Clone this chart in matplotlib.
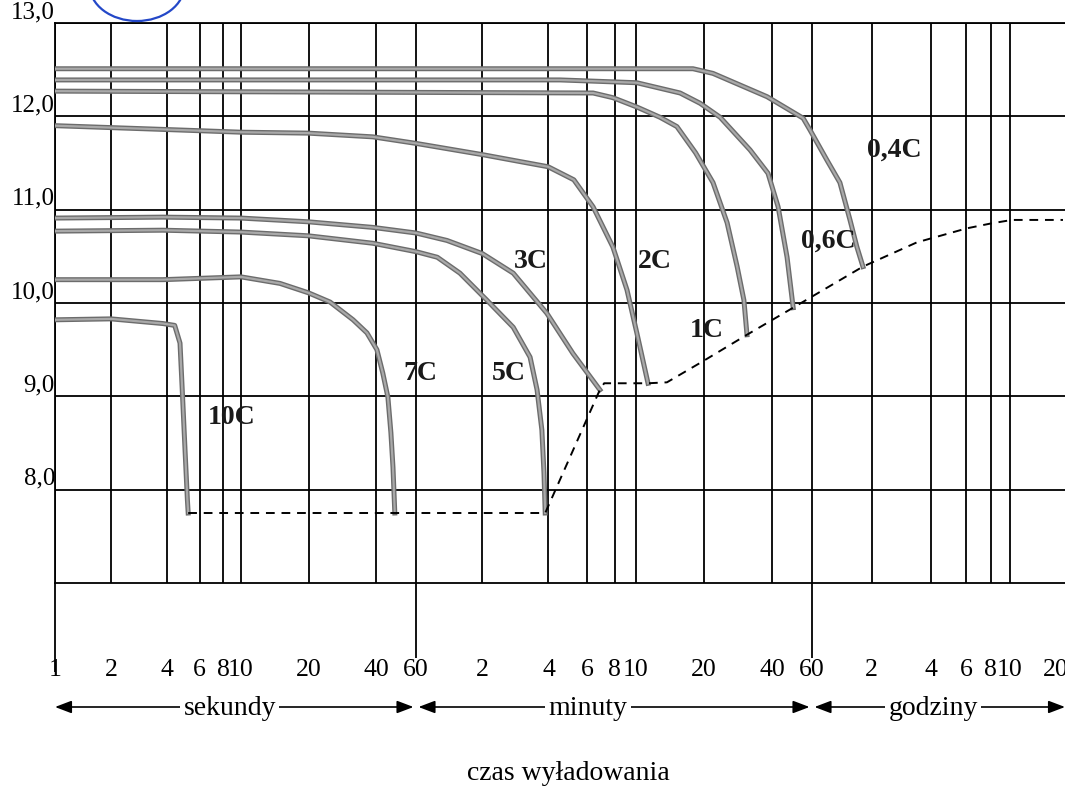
import numpy as np
import matplotlib
matplotlib.use("Agg")
import matplotlib.pyplot as plt
import matplotlib.patheffects as pe
from matplotlib.patches import Arc

# ---------------- data: discharge time [s] and voltage [V] ----------------
t_10C = [1, 2, 3.8, 4.4, 4.7, 4.85, 5.0, 5.15, 5.2]
v_10C = [9.82, 9.83, 9.78, 9.76, 9.57, 9.00, 8.43, 7.89, 7.75]

t_7C = [1, 3.8, 10, 14.9, 19.9, 24.9, 31.5, 36.3, 40.2, 42.7, 45, 46.4, 47.4, 48.3]
v_7C = [10.25, 10.25, 10.28, 10.21, 10.11, 10.01, 9.82, 9.68, 9.50, 9.25, 8.99, 8.61, 8.24, 7.75]

t_5C = [1, 3.8, 10, 19.9, 38.6, 60, 75, 95, 126, 166, 198, 213, 224, 229, 232]
v_5C = [10.77, 10.78, 10.76, 10.72, 10.64, 10.55, 10.49, 10.32, 10.03, 9.74, 9.42, 9.07, 8.64, 8.18, 7.75]

t_3C = [1, 3.8, 10, 19.9, 38.6, 60, 83, 120, 166, 236, 310, 411]
v_3C = [10.91, 10.92, 10.91, 10.87, 10.81, 10.75, 10.67, 10.53, 10.32, 9.89, 9.46, 9.07]

t_2C = [1, 3.8, 10, 19.9, 38.6, 60, 120, 239, 313, 383, 471, 546, 605, 678]
v_2C = [11.90, 11.86, 11.83, 11.82, 11.78, 11.71, 11.59, 11.46, 11.32, 11.03, 10.60, 10.14, 9.68, 9.14]

t_1C = [1, 383, 471, 605, 766, 910, 1100, 1314, 1517, 1680, 1800, 1857]
v_1C = [12.27, 12.25, 12.20, 12.10, 11.99, 11.89, 11.61, 11.29, 10.86, 10.39, 10.03, 9.66]

t_06C = [1, 271, 605, 940, 1152, 1413, 1916, 2300, 2550, 2793, 2972]
v_06C = [12.39, 12.39, 12.36, 12.25, 12.14, 11.99, 11.64, 11.39, 11.03, 10.49, 9.95]

t_04C = [1, 1072, 1314, 2280, 3290, 3535, 4285, 4980, 5600, 6070, 6510]
v_04C = [12.51, 12.51, 12.46, 12.21, 11.98, 11.85, 11.53, 11.29, 10.89, 10.60, 10.39]

# end-of-discharge voltage locus (dashed)
t_end = [5.2, 232, 411, 430, 678, 822, 1175, 1857, 2972, 6510, 12200, 21800, 28500, 37000, 79600]
v_end = [7.75, 7.75, 9.07, 9.14, 9.14, 9.15, 9.37, 9.66, 9.95, 10.39, 10.65, 10.80, 10.85, 10.89, 10.89]

curve_names = ["10C", "7C", "5C", "3C", "2C", "1C", "0,6C", "0,4C"]
curve_t = [t_10C, t_7C, t_5C, t_3C, t_2C, t_1C, t_06C, t_04C]
curve_v = [v_10C, v_7C, v_5C, v_3C, v_2C, v_1C, v_06C, v_04C]

tick_times = [1, 2, 4, 6, 8, 10, 20, 40, 60,
              120, 240, 360, 480, 600, 1200, 2400, 3600,
              7200, 14400, 21600, 28800, 36000, 72000]
tick_labels = ["1", "2", "4", "6", "8", "10", "20", "40", "60",
               "2", "4", "6", "8", "10", "20", "40", "60",
               "2", "4", "6", "8", "10", "20"]
y_ticks = [8, 9, 10, 11, 12, 13]
y_labels = ["8,0", "9,0", "10,0", "11,0", "12,0", "13,0"]

unit_names = ["sekundy", "minuty", "godziny"]
xlabel_text = "czas wyładowania"

# ---------------- layout / style ----------------
W, H = 1065, 793
plt.rcParams['font.family'] = ['Liberation Serif', 'DejaVu Serif']

# piecewise-logarithmic time axis (as printed on the original sheet)
_anch_log = np.log10([0.1, 1, 10, 60, 600, 3600, 36000, 72000, 720000])
_anch_px = np.array([55 - 186, 55, 241, 416, 636, 812, 1010, 1056, 1216], dtype=float)


def fwd(t):
    t = np.asarray(t, dtype=float)
    return np.interp(np.log10(np.clip(t, 1e-6, None)), _anch_log, _anch_px)


def inv(p):
    p = np.asarray(p, dtype=float)
    return 10 ** np.interp(p, _anch_px, _anch_log)


fig = plt.figure(figsize=(W / 100, H / 100), dpi=100)
fig.patch.set_facecolor('white')
ax = fig.add_axes([55 / W, 1 - 583 / H, (W - 55) / W, (583 - 23) / H])
ax.set_xscale('function', functions=(fwd, inv))
x_right = float(inv(W))
ax.set_xlim(1, x_right)
ax.set_ylim(7, 13)

GRID_LW = 1.3
ax.set_xticks(tick_times, tick_labels)
ax.set_yticks(y_ticks, y_labels)
ax.grid(True, color='black', lw=GRID_LW)
ax.xaxis.get_gridlines()[-1].set_visible(False)
ax.tick_params(axis='x', length=0, pad=55, labelsize=18.5)
ax.tick_params(axis='y', length=0, pad=0, labelsize=18)
for lbl in ax.get_yticklabels():
    lbl.set_va('bottom')
for s in ['top', 'left', 'bottom']:
    ax.spines[s].set_linewidth(GRID_LW)
ax.spines['right'].set_visible(False)

# extension lines below the grid at unit boundaries
ax.vlines([60, 3600], 6.2, 7, color='black', lw=GRID_LW, clip_on=False)
ax.vlines([1], 6.05, 7, color='black', lw=GRID_LW, clip_on=False)

# discharge curves
for t, v in zip(curve_t, curve_v):
    ax.plot(t, v, color='#a9a9a9', lw=1.6, zorder=3, solid_joinstyle='round',
            path_effects=[pe.Stroke(linewidth=3.6, foreground='#6c6c6c'), pe.Normal()])

ax.plot(t_end, v_end, color='black', lw=1.4, ls=(0, (4.5, 3.5)), zorder=4)

# curve labels (positions in data space)
label_pos = [(8.9, 8.77), (63, 9.25), (159, 9.25), (200, 10.44),
             (728, 10.44), (1236, 9.71), (4330, 10.66), (9330, 11.64)]
for name, (lx, ly) in zip(curve_names, label_pos):
    ax.text(lx, ly, name, fontsize=20, fontweight='bold', color='#1a1a1a',
            ha='center', va='center', zorder=5)

# unit arrows below the axis
y_arrow = 1 - 707 / H
arrow_spans = [(1, 60), (60, 3600), (3600, x_right)]
for (a, b) in arrow_spans:
    ax.annotate('', xy=(b, y_arrow), xytext=(a, y_arrow),
                xycoords=('data', 'figure fraction'),
                textcoords=('data', 'figure fraction'),
                arrowprops=dict(arrowstyle='<|-|>,head_length=1.0,head_width=0.38',
                                color='black', lw=1.2,
                                shrinkA=0 if a == 1 else 1.8,
                                shrinkB=0 if b == x_right else 1.8),
                annotation_clip=False)
unit_pos = [8.7, 363, 14700]
for name, ux in zip(unit_names, unit_pos):
    ax.annotate(name, xy=(ux, 1 - 715 / H), xycoords=('data', 'figure fraction'),
                ha='center', va='baseline', fontsize=20, annotation_clip=False,
                bbox=dict(boxstyle='square,pad=0.12', fc='white', ec='none'))

fig.text(568 / W, 1 - 780 / H, xlabel_text, ha='center', va='baseline', fontsize=20)

# blue pen scribble at the top of the scan
fig.add_artist(Arc((1.37, (H + 15) / 100), 0.95, 0.72, theta1=180, theta2=360,
                   transform=fig.dpi_scale_trans, color='#2448c8', lw=1.6))

fig.savefig('out.png', dpi=100, facecolor='white')
